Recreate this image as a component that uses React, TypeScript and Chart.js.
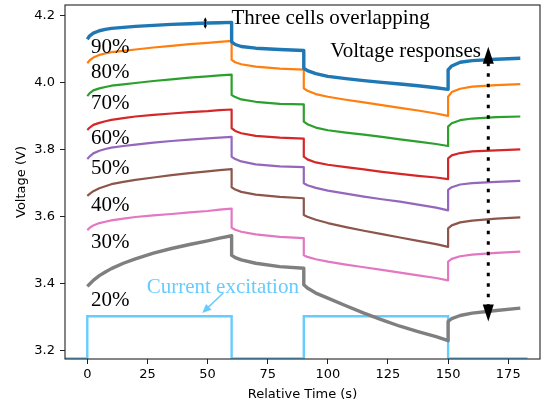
import { useEffect, useRef } from "react";
import { Chart, registerables } from "chart.js";

Chart.register(...registerables);

// Relative time samples (s); repeated instants mark the current switching edges
const relTime = [
  0, 1, 2.5, 5, 7.5, 10, 15, 20, 27.5, 35, 42.5, 50, 55, 60,
  60, 61.5, 64, 70, 80, 90,
  90, 91.5, 95, 100, 107.5, 115, 122.5, 130, 137.5, 145, 150,
  150, 151.5, 155, 160, 170, 180,
];

// Terminal voltage (V) for each state of charge
const soc90 = [
  4.130, 4.140, 4.148, 4.155, 4.159, 4.162, 4.165, 4.168, 4.171, 4.174, 4.176, 4.178, 4.179, 4.180,
  4.122, 4.114, 4.108, 4.103, 4.099, 4.096,
  4.043, 4.036, 4.027, 4.019, 4.012, 4.006, 4.001, 3.996, 3.991, 3.985, 3.980,
  4.038, 4.050, 4.061, 4.066, 4.070, 4.073,
];
const soc80 = [
  4.058, 4.067, 4.075, 4.083, 4.087, 4.091, 4.095, 4.099, 4.105, 4.110, 4.115, 4.119, 4.122, 4.125,
  4.068, 4.061, 4.055, 4.048, 4.042, 4.039,
  3.983, 3.976, 3.966, 3.958, 3.949, 3.941, 3.933, 3.925, 3.917, 3.908, 3.901,
  3.958, 3.972, 3.982, 3.988, 3.993, 3.996,
];
const soc70 = [
  3.960, 3.969, 3.977, 3.983, 3.987, 3.991, 3.995, 3.999, 4.005, 4.010, 4.015, 4.019, 4.022, 4.024,
  3.963, 3.957, 3.950, 3.943, 3.937, 3.935,
  3.884, 3.876, 3.866, 3.858, 3.851, 3.845, 3.838, 3.831, 3.824, 3.817, 3.811,
  3.869, 3.879, 3.888, 3.893, 3.897, 3.899,
];
const soc60 = [
  3.859, 3.866, 3.874, 3.880, 3.885, 3.889, 3.894, 3.899, 3.904, 3.908, 3.912, 3.915, 3.918, 3.920,
  3.864, 3.856, 3.849, 3.841, 3.836, 3.833,
  3.779, 3.771, 3.762, 3.755, 3.748, 3.741, 3.734, 3.728, 3.722, 3.717, 3.712,
  3.774, 3.783, 3.790, 3.795, 3.798, 3.801,
];
const soc50 = [
  3.772, 3.780, 3.789, 3.797, 3.802, 3.806, 3.811, 3.815, 3.821, 3.826, 3.830, 3.834, 3.836, 3.838,
  3.779, 3.772, 3.765, 3.756, 3.750, 3.748,
  3.700, 3.694, 3.686, 3.678, 3.669, 3.660, 3.652, 3.645, 3.636, 3.627, 3.619,
  3.680, 3.688, 3.696, 3.700, 3.704, 3.707,
];
const soc40 = [
  3.662, 3.668, 3.676, 3.685, 3.691, 3.697, 3.704, 3.710, 3.717, 3.724, 3.730, 3.735, 3.739, 3.742,
  3.688, 3.681, 3.674, 3.666, 3.659, 3.655,
  3.605, 3.600, 3.591, 3.581, 3.569, 3.558, 3.548, 3.538, 3.528, 3.518, 3.510,
  3.565, 3.574, 3.583, 3.588, 3.594, 3.598,
];
const soc30 = [
  3.560, 3.567, 3.574, 3.581, 3.585, 3.589, 3.594, 3.599, 3.604, 3.608, 3.613, 3.617, 3.621, 3.624,
  3.567, 3.561, 3.555, 3.547, 3.540, 3.536,
  3.485, 3.480, 3.473, 3.466, 3.457, 3.449, 3.441, 3.433, 3.425, 3.417, 3.410,
  3.466, 3.474, 3.482, 3.487, 3.492, 3.496,
];
const soc20 = [
  3.392, 3.399, 3.410, 3.424, 3.435, 3.445, 3.461, 3.474, 3.491, 3.505, 3.517, 3.528, 3.536, 3.543,
  3.485, 3.478, 3.471, 3.461, 3.451, 3.446,
  3.397, 3.387, 3.372, 3.357, 3.334, 3.312, 3.292, 3.273, 3.257, 3.242, 3.230,
  3.287, 3.296, 3.305, 3.312, 3.320, 3.327,
];

const socSeries = [soc90, soc80, soc70, soc60, soc50, soc40, soc30, soc20];
const socLabels = ["90%", "80%", "70%", "60%", "50%", "40%", "30%", "20%"];
const socColors = ["#1f77b4", "#ff7f0e", "#2ca02c", "#d62728", "#9467bd", "#8c564b", "#e377c2", "#7f7f7f"];
const socWidths = [3.4, 2.2, 2.2, 2.2, 2.2, 2.2, 2.2, 3.4];

// Current excitation drawn as a square wave on the voltage axis
const pulseTime = [-10, 0, 0, 60, 60, 90, 90, 150, 150, 183];
const pulseLevel = [3.177, 3.177, 3.303, 3.303, 3.177, 3.177, 3.303, 3.303, 3.177, 3.177];
const pulseColor = "#66ccff";

const xTickValues = [0, 25, 50, 75, 100, 125, 150, 175];
const yTickValues = [3.2, 3.4, 3.6, 3.8, 4.0, 4.2];

// Text anchors in data units: [time, voltage] for left edge / baseline
const socLabelTime = 1.5;
const socLabelVolt = [4.089, 4.015, 3.921, 3.816, 3.726, 3.617, 3.508, 3.333];
const overlapNote = { text: "Three cells overlapping", t: 59.9, v: 4.175 };
const responseNote = { text: "Voltage responses", t: 101, v: 4.076 };
const currentNote = { text: "Current excitation", t: 24.7, v: 3.372 };
const currentArrow = { t0: 56.5, v0: 3.372, t1: 47.8, v1: 3.3125 };
const responseArrow = { t: 166.7, vTop: 4.107, vBottom: 3.287 };
const overlapMarker = { t: 49.05, vTop: 4.195, vBottom: 4.161 };

const SERIF = "21px 'Liberation Serif', 'Times New Roman', serif";
const SANS = "'DejaVu Sans', sans-serif";

function arrowHead(ctx: CanvasRenderingContext2D, tx: number, ty: number, fx: number, fy: number, len: number, w: number) {
  const a = Math.atan2(ty - fy, tx - fx);
  const bx = tx - len * Math.cos(a);
  const by = ty - len * Math.sin(a);
  const nx = (w / 2) * Math.sin(a);
  const ny = (w / 2) * Math.cos(a);
  ctx.beginPath();
  ctx.moveTo(tx, ty);
  ctx.lineTo(bx + nx, by - ny);
  ctx.lineTo(bx - nx, by + ny);
  ctx.closePath();
  ctx.fill();
}

const annotations = {
  id: "annotations",
  afterDatasetsDraw(chart: any) {
    const { ctx, chartArea: a, scales } = chart;
    const x = scales.x;
    const y = scales.y;
    ctx.save();

    // frame on all four sides
    ctx.strokeStyle = "#222";
    ctx.lineWidth = 1.1;
    ctx.setLineDash([]);
    ctx.strokeRect(a.left, a.top, a.right - a.left, a.bottom - a.top);

    ctx.font = SERIF;
    ctx.textAlign = "left";
    ctx.textBaseline = "alphabetic";
    ctx.fillStyle = "#000";
    socLabels.forEach((lab, i) => {
      ctx.fillText(lab, x.getPixelForValue(socLabelTime), y.getPixelForValue(socLabelVolt[i]));
    });
    ctx.fillText(overlapNote.text, x.getPixelForValue(overlapNote.t), y.getPixelForValue(overlapNote.v));
    ctx.fillText(responseNote.text, x.getPixelForValue(responseNote.t), y.getPixelForValue(responseNote.v));
    ctx.fillStyle = pulseColor;
    ctx.fillText(currentNote.text, x.getPixelForValue(currentNote.t), y.getPixelForValue(currentNote.v));

    // arrow from the excitation label to the pulse
    const cx0 = x.getPixelForValue(currentArrow.t0);
    const cy0 = y.getPixelForValue(currentArrow.v0);
    const cx1 = x.getPixelForValue(currentArrow.t1);
    const cy1 = y.getPixelForValue(currentArrow.v1);
    ctx.strokeStyle = pulseColor;
    ctx.lineWidth = 1.5;
    ctx.beginPath();
    ctx.moveTo(cx0, cy0);
    const ang = Math.atan2(cy1 - cy0, cx1 - cx0);
    ctx.lineTo(cx1 - 6 * Math.cos(ang), cy1 - 6 * Math.sin(ang));
    ctx.stroke();
    arrowHead(ctx, cx1, cy1, cx0, cy0, 9, 8);

    // dotted double arrow spanning the voltage responses
    const rx = x.getPixelForValue(responseArrow.t);
    const ryT = y.getPixelForValue(responseArrow.vTop);
    const ryB = y.getPixelForValue(responseArrow.vBottom);
    ctx.fillStyle = "#000";
    ctx.strokeStyle = "#000";
    ctx.lineWidth = 3;
    ctx.setLineDash([3.5, 7]);
    ctx.beginPath();
    ctx.moveTo(rx, ryT + 16);
    ctx.lineTo(rx, ryB - 16);
    ctx.stroke();
    ctx.setLineDash([]);
    arrowHead(ctx, rx, ryT, rx, ryB, 17, 11);
    arrowHead(ctx, rx, ryB, rx, ryT, 17, 11);

    // small marker where the three cells overlap
    const mx = x.getPixelForValue(overlapMarker.t);
    const myT = y.getPixelForValue(overlapMarker.vTop);
    const myB = y.getPixelForValue(overlapMarker.vBottom);
    ctx.lineWidth = 1.5;
    ctx.beginPath();
    ctx.moveTo(mx, myT + 2);
    ctx.lineTo(mx, myB - 2);
    ctx.stroke();
    arrowHead(ctx, mx, myT, mx, myB, 3.5, 3.5);
    arrowHead(ctx, mx, myB, mx, myT, 3.5, 3.5);

    ctx.restore();
  },
};

export default function App() {
  const canvasRef = useRef<HTMLCanvasElement | null>(null);

  useEffect(() => {
    const canvas = canvasRef.current;
    if (!canvas) return;

    const socSets = socSeries.map((vals, i) => ({
      label: socLabels[i],
      data: relTime.map((t, k) => ({ x: t, y: vals[k] })),
      borderColor: socColors[i],
      backgroundColor: socColors[i],
      borderWidth: socWidths[i],
      pointRadius: 0,
      tension: 0,
      borderJoinStyle: "round" as const,
      fill: false,
      order: i,
    }));

    const pulseSet = {
      label: "Current",
      data: pulseTime.map((t, k) => ({ x: t, y: pulseLevel[k] })),
      borderColor: pulseColor,
      backgroundColor: pulseColor,
      borderWidth: 2.4,
      pointRadius: 0,
      tension: 0,
      borderJoinStyle: "miter" as const,
      fill: false,
      order: 20,
    };

    const chart = new Chart(canvas, {
      type: "line",
      data: { datasets: [...socSets, pulseSet] as any },
      options: {
        animation: false,
        responsive: false,
        maintainAspectRatio: false,
        layout: { padding: { left: 0, right: 6, top: 5, bottom: 0 } },
        plugins: {
          legend: { display: false },
          tooltip: { enabled: false },
        },
        scales: {
          x: {
            type: "linear",
            min: -9.27,
            max: 188.2,
            afterBuildTicks: (scale: any) => {
              scale.ticks = xTickValues.map((v) => ({ value: v }));
            },
            afterFit: (scale: any) => {
              scale.height = 45;
              scale.paddingLeft = 0;
              scale.paddingRight = 0;
            },
            border: { display: false },
            grid: {
              display: true,
              drawOnChartArea: false,
              drawTicks: true,
              tickLength: 5,
              color: "#222",
              lineWidth: 1,
            },
            ticks: {
              color: "#000",
              font: { family: SANS, size: 13 },
              padding: 3.2,
              maxRotation: 0,
              callback: (v: any) => String(v),
            },
            title: {
              display: true,
              text: "Relative Time (s)",
              color: "#000",
              font: { family: SANS, size: 13 },
              padding: { top: 0, bottom: 1.2 },
            },
          },
          y: {
            type: "linear",
            min: 3.1752,
            max: 4.2319,
            afterBuildTicks: (scale: any) => {
              scale.ticks = yTickValues.map((v) => ({ value: v }));
            },
            afterFit: (scale: any) => {
              scale.width = 65;
              scale.paddingTop = 0;
              scale.paddingBottom = 0;
            },
            border: { display: false },
            grid: {
              display: true,
              drawOnChartArea: false,
              drawTicks: true,
              tickLength: 5,
              color: "#222",
              lineWidth: 1,
            },
            ticks: {
              color: "#000",
              font: { family: SANS, size: 13 },
              padding: 5,
              callback: (v: any) => Number(v).toFixed(1),
            },
            title: {
              display: true,
              text: "Voltage (V)",
              color: "#000",
              font: { family: SANS, size: 13 },
              padding: { top: 13.9, bottom: 0 },
            },
          },
        },
      },
      plugins: [annotations],
    });

    return () => chart.destroy();
  }, []);

  return (
    <div style={{ position: "absolute", left: 0, top: 0, width: 546, height: 404, background: "#fff" }}>
      <canvas ref={canvasRef} width={546} height={404} style={{ display: "block", width: 546, height: 404 }} />
    </div>
  );
}
